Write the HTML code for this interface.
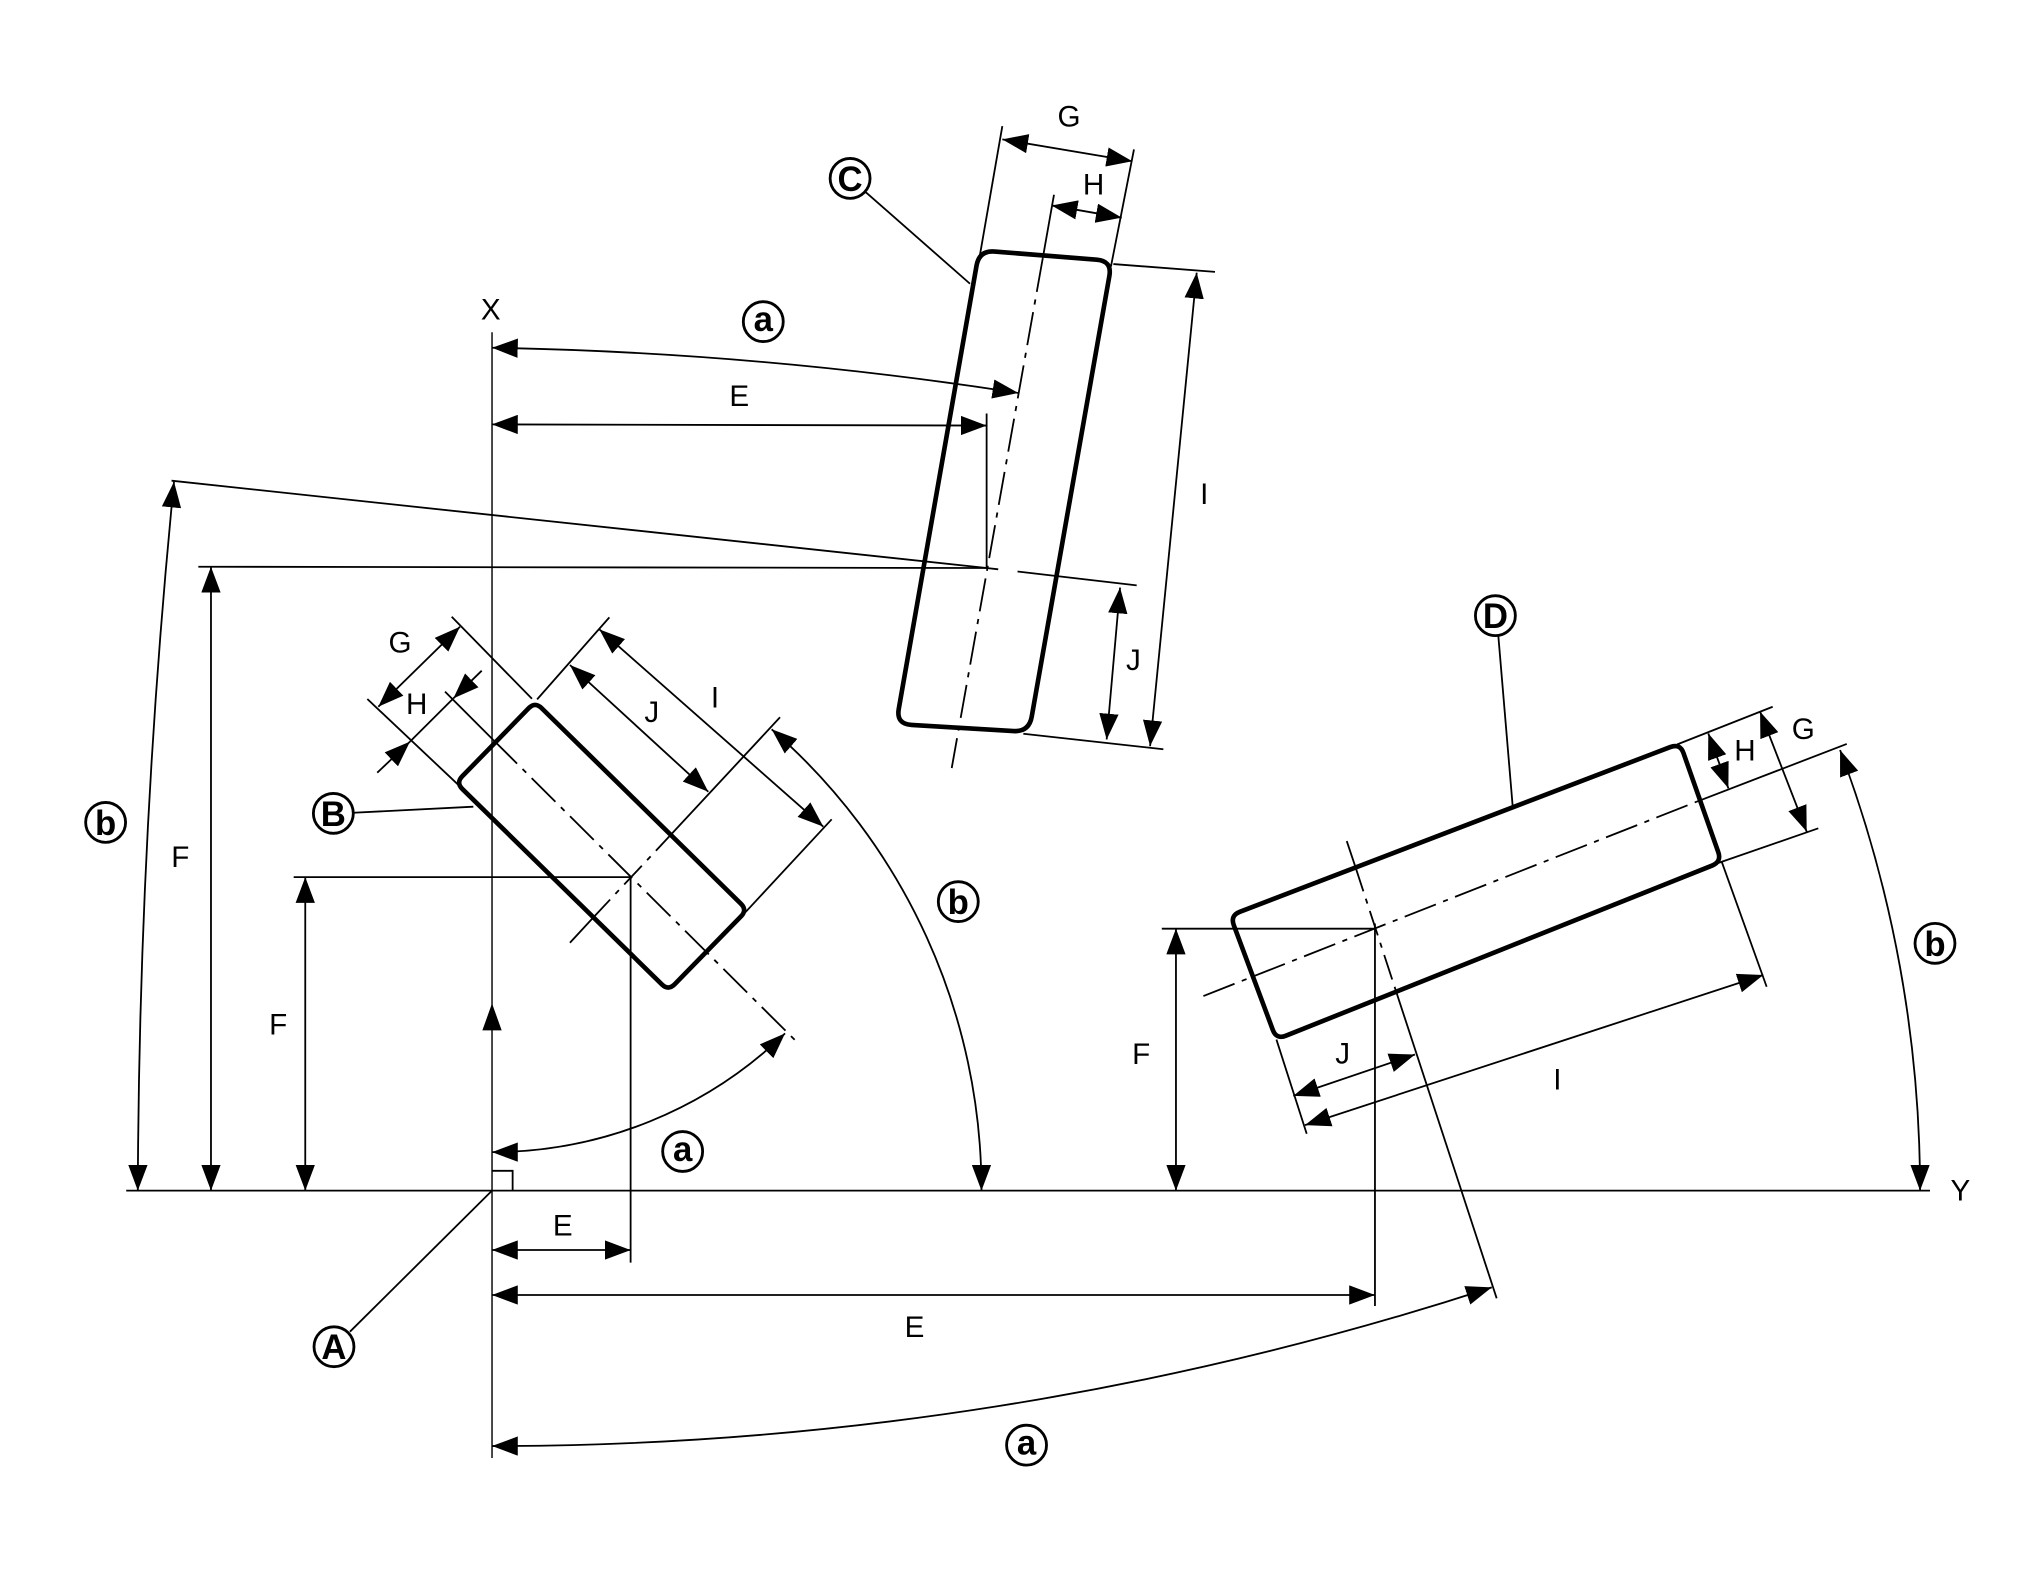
<!DOCTYPE html>
<html><head><meta charset="utf-8"><style>
html,body{margin:0;padding:0;background:#fff;}
svg{display:block;}
text{font-family:"Liberation Sans",Arial,sans-serif;fill:#000;}
.t{font-size:23px;text-anchor:middle;}
.c{font-size:27px;font-weight:bold;text-anchor:middle;}
</style></head><body>
<svg width="2020" height="1571" viewBox="0 0 1568.3 1219.7" preserveAspectRatio="none" xmlns="http://www.w3.org/2000/svg">
<defs>
<marker id="ah" markerUnits="userSpaceOnUse" viewBox="0 0 20 15" markerWidth="20" markerHeight="15" refX="20" refY="7.5" orient="auto-start-reverse">
<path d="M0,0 L20,7.5 L0,15 Z" fill="#000"/>
</marker>
</defs>
<rect x="0" y="0" width="1568.3" height="1219.7" fill="#fff"/>
<g stroke="#000" stroke-width="1.4" fill="none">
<!-- axes -->
<line x1="382" y1="258" x2="382" y2="1132" stroke-width="1.1"/>
<line x1="98" y1="924.4" x2="1498.4" y2="924.4"/>
<polyline points="382,909 398,909 398,924.4"/>
<path d="M382,779 L389.5,800 L374.5,800 Z" fill="#000" stroke="none"/>

<!-- ===== C ===== -->
<path d="M772.3,195.3 L851.4,201.6 Q863.4,202.5 861.3,214.3 L801.0,556.5 Q798.9,568.3 786.9,567.6 L707.7,562.8 Q695.7,562.1 697.8,550.3 L758.2,206.1 Q760.3,194.3 772.3,195.3 Z" stroke-width="3.6"/>
<line x1="778.2" y1="97.9" x2="760.8" y2="198"/>
<line x1="880.4" y1="116" x2="862.5" y2="207"/>
<line x1="778.2" y1="108.2" x2="879.1" y2="125.2" marker-start="url(#ah)" marker-end="url(#ah)"/>
<line x1="816.5" y1="159.5" x2="870.9" y2="169" marker-start="url(#ah)" marker-end="url(#ah)"/>
<line x1="818.3" y1="151.2" x2="809.5" y2="201"/>
<line x1="809.5" y1="201" x2="738.9" y2="596.3" stroke-dasharray="26 6 4 6"/>
<line x1="864.4" y1="205" x2="943.3" y2="211.1"/>
<line x1="794.5" y1="569.7" x2="903.2" y2="581.7"/>
<line x1="929.1" y1="211.7" x2="892.9" y2="579.3" marker-start="url(#ah)" marker-end="url(#ah)"/>
<line x1="766" y1="441" x2="775" y2="442"/>
<line x1="790" y1="443.7" x2="882.5" y2="454.5"/>
<line x1="869.6" y1="456.2" x2="859.2" y2="574.1" marker-start="url(#ah)" marker-end="url(#ah)"/>
<line x1="766" y1="321" x2="766" y2="441"/>
<line x1="382" y1="329.5" x2="766" y2="330.4" marker-start="url(#ah)" marker-end="url(#ah)"/>
<path d="M382,270 A3000,3000 0 0 1 790.6,305.1" marker-start="url(#ah)" marker-end="url(#ah)"/>
<line x1="133.2" y1="373.2" x2="766" y2="441"/>
<line x1="154" y1="440" x2="766" y2="441"/>
<line x1="163.8" y1="440" x2="163.8" y2="924.4" marker-start="url(#ah)" marker-end="url(#ah)"/>
<path d="M135.1,374 A5767,5767 0 0 0 107,924.4" marker-start="url(#ah)" marker-end="url(#ah)"/>
<line x1="671.6" y1="148.7" x2="753.1" y2="220.3"/>

<!-- ===== B ===== -->
<path d="M420.4,549.7 L575.2,701.6 Q580.2,706.5 575.3,711.5 L523.8,764.2 Q518.9,769.2 513.9,764.3 L359.0,612.6 Q354,607.7 358.9,602.7 L410.5,549.8 Q415.4,544.8 420.4,549.7 Z" stroke-width="3.6"/>
<line x1="350.7" y1="478.8" x2="413" y2="542.5"/>
<line x1="285.2" y1="542.7" x2="356" y2="609.5"/>
<line x1="345.5" y1="537" x2="383" y2="574.5"/>
<line x1="383" y1="574.5" x2="618.5" y2="808.8" stroke-dasharray="26 6 4 6"/>
<line x1="293.7" y1="548.7" x2="357.1" y2="486.6" marker-start="url(#ah)" marker-end="url(#ah)"/>
<line x1="292.9" y1="599.9" x2="318.3" y2="575.8" marker-end="url(#ah)"/>
<line x1="374" y1="520.7" x2="352" y2="542.2" marker-end="url(#ah)"/>
<line x1="318.3" y1="575.8" x2="352" y2="542.2"/>
<line x1="417" y1="543" x2="473.1" y2="479.3"/>
<line x1="442.5" y1="731.9" x2="460" y2="713"/>
<line x1="460" y1="713" x2="520" y2="649" stroke-dasharray="20 6 4 6"/>
<line x1="520" y1="649" x2="605.6" y2="556.9"/>
<line x1="578.5" y1="708.5" x2="645.7" y2="636.1"/>
<line x1="442.5" y1="516.3" x2="549.9" y2="614.7" marker-start="url(#ah)" marker-end="url(#ah)"/>
<line x1="465.3" y1="488.6" x2="639.2" y2="641.8" marker-start="url(#ah)" marker-end="url(#ah)"/>
<path d="M599.1,566.2 A474.4,474.4 0 0 1 762,924.4" marker-start="url(#ah)" marker-end="url(#ah)"/>
<path d="M382,894.5 A326.8,326.8 0 0 0 609.5,802.3" marker-start="url(#ah)" marker-end="url(#ah)"/>
<line x1="228" y1="681" x2="490" y2="681"/>
<line x1="237" y1="681" x2="237" y2="924.4" marker-start="url(#ah)" marker-end="url(#ah)"/>
<line x1="489.6" y1="681" x2="489.6" y2="980.3"/>
<line x1="382" y1="970.5" x2="489.6" y2="970.5" marker-start="url(#ah)" marker-end="url(#ah)"/>
<line x1="274.3" y1="631" x2="367.5" y2="626.3"/>

<!-- ===== D ===== -->
<path d="M962.6,707.9 L1296.8,580.0 Q1304.3,577.1 1307.0,584.6 L1334.0,661.5 Q1336.7,669 1329.3,672.0 L998.4,804.1 Q991,807.1 988.2,799.6 L957.9,718.3 Q955.1,710.8 962.6,707.9 Z" stroke-width="3.6"/>
<line x1="1302" y1="578" x2="1376.3" y2="548.7"/>
<line x1="1334" y1="670" x2="1411.7" y2="643.1"/>
<line x1="934.3" y1="773.3" x2="1317.3" y2="622.4" stroke-dasharray="26 6 4 6"/>
<line x1="1317.3" y1="622.4" x2="1433.8" y2="577.6"/>
<line x1="1366.5" y1="552.5" x2="1402.7" y2="645.7" marker-start="url(#ah)" marker-end="url(#ah)"/>
<line x1="1326.3" y1="569.4" x2="1341.9" y2="612" marker-start="url(#ah)" marker-end="url(#ah)"/>
<line x1="1336.7" y1="669" x2="1371.6" y2="766.1"/>
<line x1="991" y1="807.1" x2="1014.5" y2="880.2"/>
<line x1="1013.2" y1="873.5" x2="1369" y2="757" marker-start="url(#ah)" marker-end="url(#ah)"/>
<line x1="1045.6" y1="653" x2="1052.3" y2="673"/>
<line x1="1052.3" y1="673" x2="1084" y2="770" stroke-dasharray="20 6 4 6"/>
<line x1="1084" y1="770" x2="1162" y2="1008"/>
<line x1="1004.1" y1="850.8" x2="1098.6" y2="818.7" marker-start="url(#ah)" marker-end="url(#ah)"/>
<path d="M1428.6,582.3 A971.1,971.1 0 0 1 1490.7,924.4" marker-start="url(#ah)" marker-end="url(#ah)"/>
<line x1="1067.5" y1="717" x2="1067.5" y2="1014"/>
<line x1="382" y1="1005.4" x2="1067.5" y2="1005.4" marker-start="url(#ah)" marker-end="url(#ah)"/>
<path d="M382,1122.7 A2506.7,2506.7 0 0 0 1158.2,999.5" marker-start="url(#ah)" marker-end="url(#ah)"/>
<line x1="902" y1="721" x2="1068" y2="721"/>
<line x1="913" y1="721" x2="913" y2="924.4" marker-start="url(#ah)" marker-end="url(#ah)"/>
<line x1="1163.3" y1="493.9" x2="1174.4" y2="625.7"/>
<line x1="271.7" y1="1033.9" x2="382" y2="924.4"/>

<!-- circles -->
<g stroke-width="2.2">
<circle cx="592.6" cy="249.7" r="15.5"/>
<circle cx="660" cy="138.5" r="15.5"/>
<circle cx="82" cy="638.5" r="15.5"/>
<circle cx="258.8" cy="631.5" r="15.5"/>
<circle cx="744" cy="700" r="15.5"/>
<circle cx="530" cy="894" r="15.5"/>
<circle cx="259.3" cy="1045.6" r="15.5"/>
<circle cx="797" cy="1122" r="15.5"/>
<circle cx="1161" cy="478" r="15.5"/>
<circle cx="1502.3" cy="732.4" r="15.5"/>
</g>
</g>

<!-- circled letters -->
<text class="c" x="592.6" y="257">a</text>
<text class="c" x="660" y="148.2">C</text>
<text class="c" x="82" y="648.3">b</text>
<text class="c" x="258.8" y="641.2">B</text>
<text class="c" x="744" y="709.8">b</text>
<text class="c" x="530" y="901.3">a</text>
<text class="c" x="259.3" y="1055.3">A</text>
<text class="c" x="797" y="1129.3">a</text>
<text class="c" x="1161" y="487.7">D</text>
<text class="c" x="1502.3" y="742.2">b</text>

<!-- plain labels -->
<text class="t" x="381" y="248.2">X</text>
<text class="t" x="1522" y="932.2">Y</text>
<text class="t" x="830" y="98.2">G</text>
<text class="t" x="849" y="151.2">H</text>
<text class="t" x="574" y="315.2">E</text>
<text class="t" x="935" y="391.2">I</text>
<text class="t" x="880" y="520.2">J</text>
<text class="t" x="310.6" y="506.4">G</text>
<text class="t" x="323.5" y="554.2">H</text>
<text class="t" x="506" y="560.7">J</text>
<text class="t" x="555.1" y="549.1">I</text>
<text class="t" x="140" y="673.2">F</text>
<text class="t" x="216" y="803.2">F</text>
<text class="t" x="436.9" y="959.2">E</text>
<text class="t" x="710" y="1038.2">E</text>
<text class="t" x="886" y="826.2">F</text>
<text class="t" x="1042.4" y="825.6">J</text>
<text class="t" x="1209.1" y="845.7">I</text>
<text class="t" x="1400" y="573.7">G</text>
<text class="t" x="1354.8" y="590.5">H</text>
</svg>
</body></html>
